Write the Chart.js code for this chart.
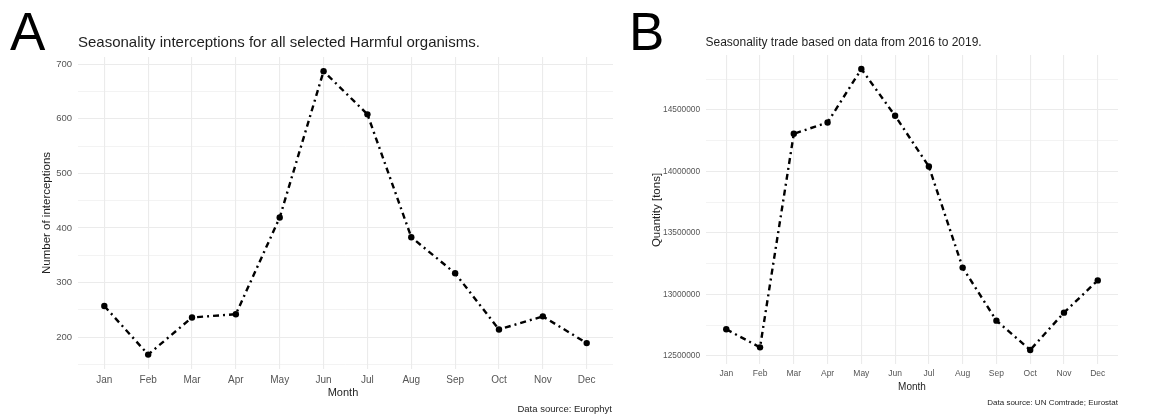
<!DOCTYPE html>
<html><head><meta charset="utf-8">
<script src="https://cdn.jsdelivr.net/npm/chart.js@4"></script>
<style>
html,body{margin:0;padding:0;background:#fff;}
#wrap{position:relative;width:1156px;height:417px;overflow:hidden;font-family:"Liberation Sans",Arial,sans-serif;background:#fff;}
canvas{position:absolute;top:0;}
.t{position:absolute;white-space:nowrap;line-height:1;color:#1e1e1e;}
.rot{transform:translate(-50%,-50%) rotate(-90deg);}
.ctr{transform:translateX(-50%);}
</style></head><body>
<div id="wrap">
<canvas id="cA" width="620" height="417" style="left:0"></canvas>
<canvas id="cB" width="578" height="417" style="left:578px"></canvas>
<div class="t" style="left:10px;top:5px;font-size:53px;color:#000">A</div>
<div class="t" style="left:629px;top:5px;font-size:53px;color:#000">B</div>
<div class="t" style="left:78px;top:34.3px;font-size:15px">Seasonality interceptions for all selected Harmful organisms.</div>
<div class="t" style="left:705.5px;top:35.8px;font-size:12px">Seasonality trade based on data from 2016 to 2019.</div>
<div class="t rot" style="left:47px;top:213px;font-size:11.5px">Number of interceptions</div>
<div class="t rot" style="left:657px;top:209.5px;font-size:11.5px">Quantity [tons]</div>
<div class="t ctr" style="left:343px;top:386.7px;font-size:11px">Month</div>
<div class="t ctr" style="left:912px;top:382.2px;font-size:10px">Month</div>
<div class="t" style="right:544px;top:403.7px;font-size:9.5px">Data source: Europhyt</div>
<div class="t" style="right:38px;top:398.9px;font-size:8px">Data source: UN Comtrade; Eurostat</div>
</div>
<script>
const months = ['Jan','Feb','Mar','Apr','May','Jun','Jul','Aug','Sep','Oct','Nov','Dec'];
const interceptions = [257, 168, 236, 242, 419, 687, 608, 383, 317, 214, 238, 189];
const tradeTons = [12717000, 12570000, 14305000, 14397000, 14831000, 14451000, 14039000, 13218000, 12787000, 12549000, 12852000, 13114000];
const yTicksA = [200, 300, 400, 500, 600, 700];
const yTicksB = [12500000, 13000000, 13500000, 14000000, 14500000];

const FAMILY = '"Liberation Sans", Arial, sans-serif';

function gridTicks(major, min, max) {
  const step = major[1] - major[0];
  const all = new Set(major);
  major.forEach(v => { all.add(v - step / 2); all.add(v + step / 2); });
  return [...all].filter(v => v >= min && v <= max).sort((a, b) => a - b);
}

function makeChart(id, values, o) {
  const majorSet = new Set(o.major);
  return new Chart(document.getElementById(id), {
    type: 'line',
    data: { datasets: [{
      data: values.map((v, i) => ({ x: i, y: v })),
      borderColor: '#000', borderWidth: 2.4, borderDash: [6, 4, 2, 4],
      pointRadius: 3.2, pointBackgroundColor: '#000', pointBorderWidth: 0,
      pointHoverRadius: 3.2, tension: 0, fill: false
    }] },
    options: {
      responsive: false, animation: false, devicePixelRatio: 1, events: [],
      layout: { padding: o.padding },
      plugins: { legend: { display: false }, tooltip: { enabled: false } },
      scales: {
        x: {
          type: 'linear', min: -0.6, max: months.length - 0.4,
          afterBuildTicks: s => { s.ticks = months.map((m, i) => ({ value: i })); },
          afterFit: s => { s.height = o.xh; },
          grid: { color: '#ebebeb', lineWidth: 1.1, drawTicks: false },
          border: { display: false },
          ticks: { callback: v => months[v], font: { family: FAMILY, size: o.tick }, color: '#555',
                   padding: o.xpad, maxRotation: 0, autoSkip: false }
        },
        y: {
          type: 'linear', min: o.min, max: o.max,
          afterBuildTicks: s => { s.ticks = gridTicks(o.major, o.min, o.max).map(v => ({ value: v })); },
          afterFit: s => { s.width = o.yw; },
          grid: { color: '#ebebeb', lineWidth: c => (c.tick && majorSet.has(c.tick.value)) ? 1.1 : 0.6, drawTicks: false },
          border: { display: false },
          ticks: { callback: v => majorSet.has(v) ? String(v) : '', font: { family: FAMILY, size: o.ytick }, color: '#555',
                   padding: 6, autoSkip: false }
        }
      }
    }
  });
}

makeChart('cA', interceptions, {
  major: yTicksA, min: 141.6, max: 713,
  padding: { left: 0, top: 57, right: 7, bottom: 28 },
  xh: 20, yw: 78, tick: 10, ytick: 9.5, xpad: 5
});
makeChart('cB', tradeTons, {
  major: yTicksB, min: 12434900, max: 14945100,
  padding: { left: 0, top: 55, right: 38, bottom: 39 },
  xh: 14, yw: 128, tick: 8.5, ytick: 8.3, xpad: 5
});
</script>
</body></html>
